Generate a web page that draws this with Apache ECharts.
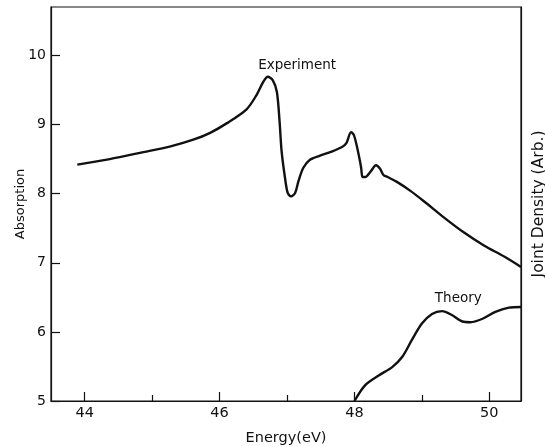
<!DOCTYPE html>
<html>
<head>
<meta charset="utf-8">
<script src="https://cdn.jsdelivr.net/npm/echarts@6/dist/echarts.min.js"></script>
<style>
  html, body { margin: 0; padding: 0; background: #fff; }
  #chart { width: 545px; height: 447px; }
</style>
</head>
<body>
<div id="chart"></div>
<script>
// Measured absorption spectrum (energy in eV, absorption in arbitrary units)
const expEnergy = [43.89, 44.37, 44.87, 45.26, 45.61, 45.86, 46.11, 46.40, 46.55, 46.65, 46.715, 46.79, 46.85, 46.89, 46.92, 46.97, 47.01, 47.06, 47.12, 47.17, 47.24, 47.34, 47.49, 47.64, 47.81, 47.88, 47.95, 47.99, 48.03, 48.08, 48.10, 48.12, 48.16, 48.24, 48.32, 48.38, 48.43, 48.49, 48.63, 48.83, 49.03, 49.32, 49.62, 49.92, 50.22, 50.47];
const expAbsorption = [8.42, 8.50, 8.60, 8.68, 8.78, 8.88, 9.02, 9.22, 9.43, 9.62, 9.69, 9.64, 9.47, 9.04, 8.61, 8.23, 8.01, 7.96, 8.01, 8.18, 8.37, 8.49, 8.55, 8.60, 8.67, 8.73, 8.89, 8.85, 8.71, 8.48, 8.37, 8.24, 8.24, 8.32, 8.41, 8.36, 8.27, 8.24, 8.17, 8.04, 7.89, 7.66, 7.44, 7.25, 7.09, 6.94];

// Calculated joint density of states, drawn on the same scale
const theoryEnergy = [48.00, 48.16, 48.36, 48.56, 48.71, 48.85, 49.00, 49.15, 49.30, 49.45, 49.60, 49.72, 49.90, 50.09, 50.29, 50.47];
const theoryDensity = [5.00, 5.23, 5.37, 5.49, 5.64, 5.88, 6.12, 6.26, 6.30, 6.24, 6.15, 6.14, 6.19, 6.29, 6.35, 6.36];

// Axis ticks
const energyMajorTicks = [44, 46, 48, 50];
const energyMinorTicks = [45, 47, 49];
const absorptionTicks = [5, 6, 7, 8, 9, 10];

// Curve captions
const captionText = ['Experiment', 'Theory'];
const captionAt = [[47.15, 9.85], [49.54, 6.48]];

const FONT = 'DejaVu Sans';
const INK = '#111';

const chart = echarts.init(document.getElementById('chart'), null, { renderer: 'canvas' });

const pairs = (xs, ys) => xs.map((x, i) => [x, ys[i]]);

const xRange = { min: 43.5, max: 50.47 };
const yRange = { min: 5, max: 10.7 };

const caption = (i) => ({
  symbol: 'circle', symbolSize: 1,
  itemStyle: { color: 'rgba(0,0,0,0)' },
  label: { show: true, position: 'inside', formatter: '{b}', fontFamily: FONT, fontSize: 13.5, color: INK },
  data: [{ name: captionText[i], coord: captionAt[i] }]
});

chart.setOption({
  animation: false,
  backgroundColor: '#fff',
  grid: {
    left: 51, right: 24, top: 7, bottom: 46,
    containLabel: false, outerBoundsMode: 'none',
    show: true, borderColor: INK, borderWidth: 1.2, backgroundColor: 'transparent'
  },
  xAxis: [
    {
      type: 'value', ...xRange, position: 'bottom',
      name: 'Energy(eV)', nameLocation: 'middle', nameGap: 30,
      nameTextStyle: { fontFamily: FONT, fontSize: 14.5, color: INK },
      axisLine: { show: true, lineStyle: { color: INK, width: 1.2 } },
      axisTick: { show: true, inside: true, length: 9, customValues: energyMajorTicks, lineStyle: { color: INK, width: 1.2 } },
      axisLabel: { show: true, customValues: energyMajorTicks, margin: 5, fontFamily: FONT, fontSize: 14.5, color: INK },
      splitLine: { show: false }
    },
    {
      type: 'value', ...xRange, position: 'bottom',
      axisLine: { show: false },
      axisTick: { show: true, inside: true, length: 6, customValues: energyMinorTicks, lineStyle: { color: INK, width: 1.2 } },
      axisLabel: { show: false },
      splitLine: { show: false }
    }
  ],
  yAxis: [
    {
      type: 'value', ...yRange, position: 'left',
      name: 'Absorption', nameLocation: 'middle', nameGap: 24, nameRotate: 90, nameMoveOverlap: false,
      nameTextStyle: { fontFamily: FONT, fontSize: 13, color: INK },
      axisLine: { show: true, lineStyle: { color: INK, width: 1.2 } },
      axisTick: { show: true, inside: true, length: 9, customValues: absorptionTicks, lineStyle: { color: INK, width: 1.2 } },
      axisLabel: { show: true, customValues: absorptionTicks, margin: 5, fontFamily: FONT, fontSize: 14, color: INK },
      splitLine: { show: false }
    },
    {
      type: 'value', ...yRange, position: 'right',
      name: 'Joint Density (Arb.)', nameLocation: 'middle', nameGap: 10, nameRotate: 90,
      nameTextStyle: { fontFamily: FONT, fontSize: 15.5, color: INK },
      axisLine: { show: true, lineStyle: { color: INK, width: 1.2 } },
      axisTick: { show: false },
      axisLabel: { show: false },
      splitLine: { show: false }
    }
  ],
  series: [
    {
      name: 'Experiment', type: 'line', xAxisIndex: 0, yAxisIndex: 0,
      data: pairs(expEnergy, expAbsorption),
      smooth: 0.3, showSymbol: false, symbol: 'none',
      lineStyle: { color: INK, width: 2.4 },
      markPoint: caption(0)
    },
    {
      name: 'Theory', type: 'line', xAxisIndex: 0, yAxisIndex: 1,
      data: pairs(theoryEnergy, theoryDensity),
      smooth: 0.3, showSymbol: false, symbol: 'none',
      lineStyle: { color: INK, width: 2.4 },
      markPoint: caption(1)
    }
  ]
});
</script>
</body>
</html>
